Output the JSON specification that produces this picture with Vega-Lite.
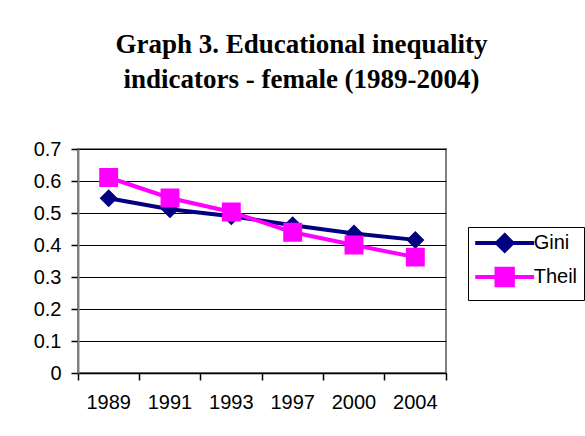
{
  "$schema": "https://vega.github.io/schema/vega-lite/v6.json",
  "width": 368,
  "height": 224,
  "autosize": {"type": "none"},
  "padding": {"left": 78, "top": 149, "right": 139, "bottom": 63},
  "background": "white",
  "title": {
    "text": ["Graph 3. Educational inequality", "indicators - female (1989-2004)"],
    "font": "Liberation Serif",
    "fontSize": 27,
    "fontWeight": "bold",
    "color": "black",
    "anchor": "middle",
    "frame": "group",
    "dx": 39.5,
    "lineHeight": 35,
    "offset": 45
  },
  "config": {
    "view": {"stroke": "#808080", "strokeWidth": 2},
    "font": "Liberation Sans"
  },
  "data": {
    "values": [
      {"year": "1989", "series": "Gini", "value": 0.546},
      {"year": "1991", "series": "Gini", "value": 0.512},
      {"year": "1993", "series": "Gini", "value": 0.49},
      {"year": "1997", "series": "Gini", "value": 0.462},
      {"year": "2000", "series": "Gini", "value": 0.436},
      {"year": "2004", "series": "Gini", "value": 0.416},
      {"year": "1989", "series": "Theil", "value": 0.611},
      {"year": "1991", "series": "Theil", "value": 0.547},
      {"year": "1993", "series": "Theil", "value": 0.503},
      {"year": "1997", "series": "Theil", "value": 0.44},
      {"year": "2000", "series": "Theil", "value": 0.4},
      {"year": "2004", "series": "Theil", "value": 0.362}
    ]
  },
  "encoding": {
    "x": {
      "field": "year",
      "type": "ordinal",
      "sort": null,
      "scale": {"type": "band", "paddingInner": 0, "paddingOuter": 0},
      "axis": {
        "title": null,
        "grid": false,
        "domainColor": "black",
        "domainWidth": 1.5,
        "tickColor": "black",
        "tickWidth": 1.5,
        "tickSize": 7,
        "bandPosition": 1,
        "tickExtra": true,
        "labelOffset": 0,
        "labelPadding": 12,
        "labelAngle": 0,
        "labelFont": "Liberation Sans",
        "labelFontSize": 20,
        "labelColor": "black"
      }
    },
    "y": {
      "field": "value",
      "type": "quantitative",
      "scale": {"domain": [0, 0.7], "nice": false, "zero": true},
      "axis": {
        "title": null,
        "values": [0, 0.1, 0.2, 0.3, 0.4, 0.5, 0.6, 0.7],
        "format": ".1~f",
        "grid": true,
        "gridColor": "black",
        "gridWidth": 1,
        "domainColor": "#808080",
        "domainWidth": 2,
        "tickColor": "black",
        "tickWidth": 1.5,
        "tickSize": 7,
        "labelPadding": 10,
        "labelFont": "Liberation Sans",
        "labelFontSize": 20,
        "labelColor": "black"
      }
    },
    "color": {
      "field": "series",
      "type": "nominal",
      "scale": {"domain": ["Gini", "Theil"], "range": ["#000080", "#FF00FF"]},
      "legend": {
        "title": null,
        "orient": "none",
        "legendX": 390,
        "legendY": 78,
        "strokeColor": "black",
        "fillColor": "white",
        "padding": 6,
        "symbolOffset": 20.7,
        "symbolSize": 243,
        "symbolStrokeWidth": 4,
        "labelOffset": 19,
        "rowPadding": 1,
        "labelFont": "Liberation Sans",
        "labelFontSize": 20,
        "labelColor": "black",
        "encode": {
          "symbols": {
            "update": {
              "stroke": {"field": "value", "scale": "color"},
              "strokeWidth": {"value": 4},
              "opacity": {"value": 1}
            }
          }
        }
      }
    }
  },
  "layer": [
    {
      "mark": {"type": "line", "strokeWidth": 4},
      "encoding": {}
    },
    {
      "mark": {"type": "point", "filled": true, "opacity": 1, "size": 324},
      "encoding": {
        "shape": {
          "field": "series",
          "type": "nominal",
          "scale": {
            "domain": ["Gini", "Theil"],
            "range": [
              "M-3.78,0L3.78,0M0,-1L1,0L0,1L-1,0Z",
              "M-3.78,0L3.78,0M-1.05,-1.05L1.05,-1.05L1.05,1.05L-1.05,1.05Z"
            ]
          },
          "legend": {
            "title": null,
            "orient": "none",
            "legendX": 390,
            "legendY": 78,
            "strokeColor": "black",
            "fillColor": "white",
            "padding": 6,
            "symbolOffset": 20.7,
            "symbolSize": 243,
            "symbolStrokeWidth": 4,
            "labelOffset": 19,
            "rowPadding": 1,
            "labelFont": "Liberation Sans",
            "labelFontSize": 20,
            "labelColor": "black",
            "encode": {
              "symbols": {
                "update": {
                  "stroke": {"field": "value", "scale": "color"},
                  "strokeWidth": {"value": 4},
                  "opacity": {"value": 1}
                }
              }
            }
          }
        }
      }
    }
  ]
}
